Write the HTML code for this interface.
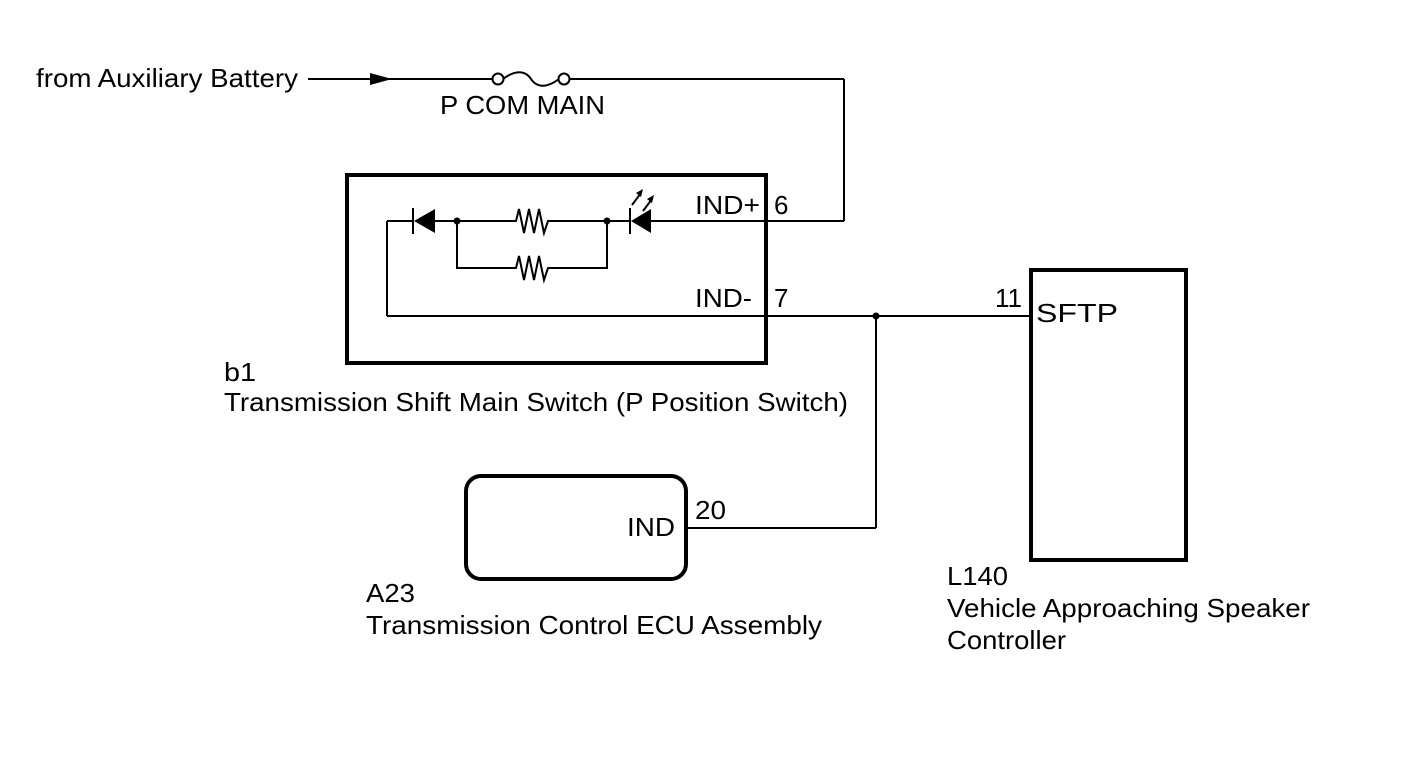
<!DOCTYPE html>
<html><head><style>html,body{margin:0;padding:0;background:#fff}svg{display:block}text{font-family:"Liberation Sans",Arial,sans-serif;font-size:26px;fill:#000}</style></head><body>
<svg width="1424" height="759" viewBox="0 0 1424 759" xmlns="http://www.w3.org/2000/svg">
<g fill="none" stroke="#000" stroke-width="2">
<line x1="308" y1="79" x2="493" y2="79"/>
<line x1="569" y1="79" x2="844" y2="79"/>
<line x1="844" y1="79" x2="844" y2="221"/>
<line x1="844" y1="221" x2="650" y2="221"/>
<circle cx="498" cy="79" r="5.5"/>
<circle cx="564" cy="79" r="5.5"/>
<path d="M503,79 C515,70 525,70 531,79 C537,88 547,88 559,79"/>
<rect x="347" y="175" width="419" height="188" stroke-width="4"/>
<line x1="630" y1="221" x2="435" y2="221"/>
<line x1="413" y1="221" x2="387" y2="221"/>
<line x1="387" y1="221" x2="387" y2="316"/>
<line x1="387" y1="316" x2="1031" y2="316"/>
<polyline points="457,221 457,268 607,268 607,221"/>
<line x1="876" y1="316" x2="876" y2="528"/>
<line x1="876" y1="528" x2="686" y2="528"/>
<line x1="413" y1="208" x2="413" y2="234"/>
<line x1="630" y1="208" x2="630" y2="234"/>
<line x1="632" y1="205" x2="641" y2="193"/>
<line x1="643" y1="211" x2="652" y2="199"/>
<rect x="1031" y="270" width="155" height="290" stroke-width="4"/>
<rect x="466" y="476" width="220" height="103" rx="15" stroke-width="4"/>
</g>
<g fill="none" stroke="#000" stroke-width="2">
<line x1="510" y1="221" x2="556" y2="221" stroke="#fff" stroke-width="3"/>
<polyline points="510,221 516,221 519,209 524,233 529,209 534,233 539,209 544,233 548,221 556,221"/>
<line x1="510" y1="268" x2="556" y2="268" stroke="#fff" stroke-width="3"/>
<polyline points="510,268 516,268 519,256 524,280 529,256 534,280 539,256 544,280 548,268 556,268"/>
</g>
<g fill="#000">
<polygon points="370,73 392,79 370,85"/>
<polygon points="435,209 435,233 414,221"/>
<polygon points="651,209 651,233 631,221"/>
<polygon points="643,189 636,193 641,197"/>
<polygon points="654,195 647,199 652,203"/>
<circle cx="457" cy="221" r="3.5"/>
<circle cx="607" cy="221" r="3.5"/>
<circle cx="876" cy="316" r="3.5"/>
</g>
<text x="36" y="87" textLength="262" lengthAdjust="spacingAndGlyphs">from Auxiliary Battery</text>
<text x="440" y="114" textLength="165" lengthAdjust="spacingAndGlyphs">P COM MAIN</text>
<text x="695" y="214" textLength="65" lengthAdjust="spacingAndGlyphs">IND+</text>
<text x="774" y="214">6</text>
<text x="695" y="307" textLength="57" lengthAdjust="spacingAndGlyphs">IND-</text>
<text x="774" y="307">7</text>
<text x="995" y="307">11</text>
<text x="1036" y="322" textLength="82" lengthAdjust="spacingAndGlyphs">SFTP</text>
<text x="224" y="381" textLength="32" lengthAdjust="spacingAndGlyphs">b1</text>
<text x="224" y="411" textLength="624" lengthAdjust="spacingAndGlyphs">Transmission Shift Main Switch (P Position Switch)</text>
<text x="627" y="536" textLength="48" lengthAdjust="spacingAndGlyphs">IND</text>
<text x="695" y="519" textLength="31" lengthAdjust="spacingAndGlyphs">20</text>
<text x="366" y="602" textLength="49" lengthAdjust="spacingAndGlyphs">A23</text>
<text x="366" y="634" textLength="456" lengthAdjust="spacingAndGlyphs">Transmission Control ECU Assembly</text>
<text x="947" y="585" textLength="61" lengthAdjust="spacingAndGlyphs">L140</text>
<text x="947" y="617" textLength="363" lengthAdjust="spacingAndGlyphs">Vehicle Approaching Speaker</text>
<text x="947" y="649" textLength="119" lengthAdjust="spacingAndGlyphs">Controller</text>
</svg>
</body></html>
